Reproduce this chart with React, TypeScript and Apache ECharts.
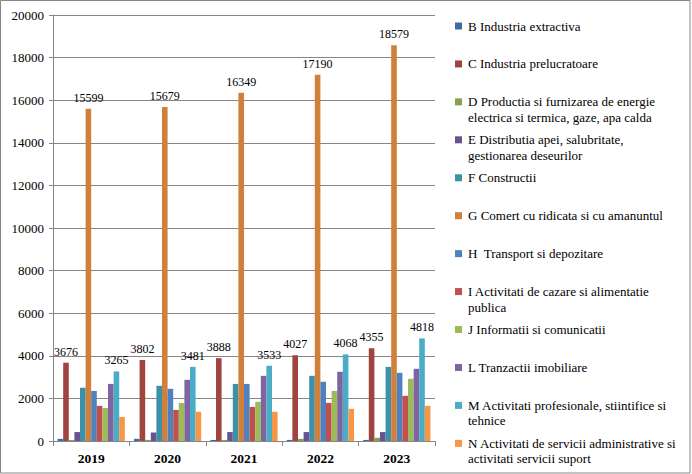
import React, { useEffect, useRef } from "react";
import * as echarts from "echarts";

const years = ["2019", "2020", "2021", "2022", "2023"];

const seriesNames = [
  "B Industria extractiva",
  "C Industria prelucratoare",
  "D Productia si furnizarea de energie\nelectrica si termica, gaze, apa calda",
  "E Distributia apei, salubritate,\ngestionarea deseurilor",
  "F Constructii",
  "G Comert cu ridicata si cu amanuntul",
  "H  Transport si depozitare",
  "I Activitati de cazare si alimentatie\npublica",
  "J Informatii si comunicatii",
  "L Tranzactii imobiliare",
  "M Activitati profesionale, stiintifice si\ntehnice",
  "N Activitati de servicii administrative si\nactivitati servicii suport",
];

const valB = [100, 100, 50, 50, 50];
const valC = [3676, 3802, 3888, 4027, 4355];
const valD = [50, 50, 50, 100, 150];
const valE = [420, 400, 420, 420, 420];
const valF = [2500, 2590, 2680, 3060, 3480];
const valG = [15599, 15679, 16349, 17190, 18579];
const valH = [2350, 2450, 2680, 2780, 3200];
const valI = [1650, 1460, 1600, 1790, 2120];
const valJ = [1550, 1790, 1840, 2350, 2920];
const valL = [2680, 2870, 3060, 3250, 3390];
const valM = [3265, 3481, 3533, 4068, 4818];
const valN = [1130, 1370, 1370, 1510, 1650];

const seriesValues = [valB, valC, valD, valE, valF, valG, valH, valI, valJ, valL, valM, valN];
const labelledSeries = [1, 5, 10];

const colors = [
  "#3E6BA5",
  "#A04440",
  "#84A14C",
  "#6A5290",
  "#3B91A8",
  "#D0803A",
  "#4F81BD",
  "#C0504D",
  "#9BBB59",
  "#8064A2",
  "#4BACC6",
  "#F79646",
];

const yTicks = { min: 0, max: 20000, interval: 2000 };

const FONT = "Liberation Serif";

export default function App() {
  const ref = useRef<HTMLDivElement>(null);

  useEffect(() => {
    if (!ref.current) return;
    const chart = echarts.init(ref.current, undefined, { renderer: "svg" });

    const legendGraphics: any[] = [];
    seriesNames.forEach((name, i) => {
      const cy = 26 + i * 37.94;
      legendGraphics.push({
        type: "rect",
        shape: { x: 455, y: cy - 3.5, width: 7, height: 7 },
        style: { fill: colors[i] },
        silent: true,
      });
      legendGraphics.push({
        type: "text",
        x: 468,
        y: cy - 7.75,
        style: {
          text: name,
          fill: "#000",
          fontFamily: FONT,
          fontSize: 13,
          lineHeight: 15.5,
          verticalAlign: "top",
          align: "left",
        },
        silent: true,
      });
    });

    const option: any = {
      animation: false,
      backgroundColor: "#fff",
      textStyle: { fontFamily: FONT },
      grid: { left: 53, right: 257, top: 15, bottom: 33, containLabel: false },
      xAxis: {
        type: "category",
        data: years,
        axisLine: { show: true, lineStyle: { color: "#868686", width: 1 } },
        axisTick: { show: true, length: 5, lineStyle: { color: "#868686" } },
        axisLabel: {
          color: "#000",
          fontFamily: FONT,
          fontSize: 13.5,
          fontWeight: "bold",
          margin: 10,
        },
        splitLine: { show: false },
      },
      yAxis: {
        type: "value",
        min: yTicks.min,
        max: yTicks.max,
        interval: yTicks.interval,
        axisLine: { show: true, lineStyle: { color: "#868686", width: 1 } },
        axisTick: { show: true, length: 4, lineStyle: { color: "#868686" } },
        axisLabel: {
          color: "#000",
          fontFamily: FONT,
          fontSize: 13,
          margin: 9,
          formatter: (v: number) => String(v),
        },
        splitLine: { show: true, lineStyle: { color: "#868686", width: 1 } },
      },
      series: seriesNames.map((name, i) => ({
        name,
        type: "bar",
        data: seriesValues[i],
        barGap: "0%",
        barCategoryGap: "12%",
        itemStyle: { color: colors[i] },
        label: labelledSeries.includes(i)
          ? {
              show: true,
              position: "top",
              distance: 5,
              color: "#000",
              fontFamily: FONT,
              fontSize: 12,
            }
          : { show: false },
      })),
      graphic: [
        {
          type: "rect",
          shape: { x: 0.5, y: 0.5, width: 689.5, height: 472.5 },
          style: { fill: "none", stroke: "#868686", lineWidth: 1 },
          silent: true,
          z: 100,
        },
        ...legendGraphics,
      ],
    };

    chart.setOption(option);
    return () => chart.dispose();
  }, []);

  return (
    <div
      ref={ref}
      style={{ position: "absolute", left: 0, top: 0, width: 692, height: 474 }}
    />
  );
}
